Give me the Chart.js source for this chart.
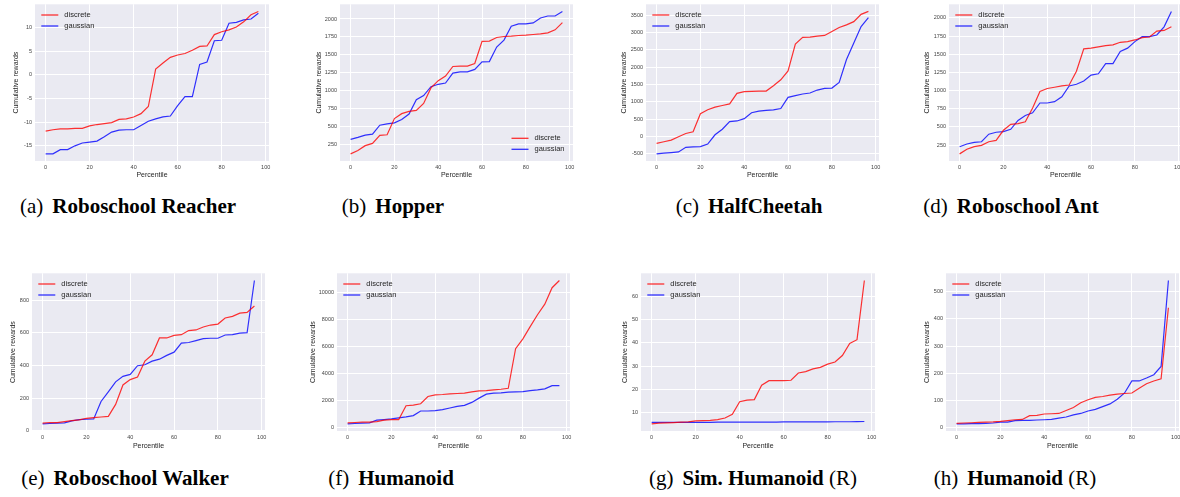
<!DOCTYPE html>
<html>
<head>
<meta charset="utf-8">
<script src="https://cdn.jsdelivr.net/npm/chart.js@4.4.0/dist/chart.umd.min.js"></script>
<style>
  html, body { margin: 0; padding: 0; background: #fff; width: 1180px; height: 497px; overflow: hidden; position: relative; }
  canvas { position: absolute; }
  .cap { position: absolute; transform: translate(-50%, -50%); font-family: 'Liberation Serif', 'Times New Roman', serif; font-size: 21px; white-space: nowrap; color: #000; }
  .cap b { margin-left: 9px; }
</style>
</head>
<body>
<div class="cap" style="left:128px;top:206px">(a)<b>Roboschool Reacher</b></div>
<div class="cap" style="left:393px;top:206px">(b)<b>Hopper</b></div>
<div class="cap" style="left:749px;top:206px">(c)<b>HalfCheetah</b></div>
<div class="cap" style="left:1011px;top:206px">(d)<b>Roboschool Ant</b></div>
<div class="cap" style="left:125px;top:478px">(e)<b>Roboschool Walker</b></div>
<div class="cap" style="left:391px;top:478px">(f)<b>Humanoid</b></div>
<div class="cap" style="left:753px;top:478px">(g)<b>Sim. Humanoid</b> (R)</div>
<div class="cap" style="left:1015px;top:478px">(h)<b>Humanoid</b> (R)</div>
<script>
// percentile positions shared by every panel
const percentiles = [0, 3.33, 6.67, 10, 13.33, 16.67, 20, 23.33, 26.67, 30, 33.33, 36.67, 40, 43.33, 46.67,
                     50, 53.33, 56.67, 60, 63.33, 66.67, 70, 73.33, 76.67, 80, 83.33, 86.67, 90, 93.33, 96.67];
const xTicks = [0, 20, 40, 60, 80, 100];

// (a) Roboschool Reacher
const reacherDiscrete = [-11.9, -11.6, -11.4, -11.4, -11.3, -11.3, -10.8, -10.5, -10.3, -10.1, -9.4, -9.3, -8.9, -8.2, -6.7,
                         1.2, 2.5, 3.7, 4.2, 4.5, 5.2, 6.0, 6.1, 8.5, 9.1, 9.5, 10.1, 11.2, 12.7, 13.4];
const reacherGaussian = [-16.7, -16.7, -15.8, -15.8, -15.0, -14.4, -14.2, -14.0, -13.1, -12.1, -11.7, -11.6, -11.6, -10.7, -9.8,
                         -9.3, -8.9, -8.7, -6.5, -4.6, -4.6, 2.2, 2.7, 7.2, 7.3, 10.9, 11.1, 11.6, 11.8, 13.0];
const reacherTicks = [-15, -10, -5, 0, 5, 10];

// (b) Hopper
const hopperDiscrete = [112, 158, 227, 259, 370, 379, 606, 675, 707, 721, 818, 1035, 1137, 1201, 1335,
                        1340, 1340, 1377, 1686, 1691, 1741, 1755, 1760, 1769, 1774, 1783, 1792, 1806, 1848, 1950];
const hopperGaussian = [315, 343, 375, 389, 513, 532, 546, 592, 670, 869, 929, 1053, 1086, 1104, 1243,
                        1261, 1261, 1294, 1400, 1404, 1608, 1705, 1898, 1931, 1931, 1945, 2014, 2042, 2042, 2106];
const hopperTicks = [250, 500, 750, 1000, 1250, 1500, 1750, 2000];

// (c) HalfCheetah
const cheetahDiscrete = [-197, -150, -102, -7, 88, 135, 656, 770, 846, 893, 941, 1244, 1291, 1301, 1310,
                         1310, 1462, 1633, 1889, 2666, 2855, 2865, 2893, 2912, 3026, 3140, 3216, 3310, 3519, 3604];
const cheetahGaussian = [-500, -481, -462, -443, -310, -301, -291, -216, 50, 211, 429, 448, 514, 685, 732,
                         751, 770, 808, 1130, 1177, 1225, 1253, 1339, 1386, 1396, 1557, 2220, 2694, 3168, 3424];
const cheetahTicks = [-500, 0, 500, 1000, 1500, 2000, 2500, 3000, 3500];

// (d) Roboschool Ant
const antDiscrete = [128, 191, 227, 245, 295, 313, 453, 535, 544, 571, 761, 987, 1028, 1046, 1064,
                     1077, 1267, 1575, 1584, 1602, 1620, 1629, 1665, 1674, 1697, 1729, 1738, 1819, 1828, 1878];
const antGaussian = [227, 264, 286, 295, 399, 426, 435, 467, 589, 657, 693, 829, 829, 847, 915,
                     1064, 1087, 1132, 1213, 1231, 1371, 1371, 1539, 1584, 1674, 1742, 1742, 1765, 1878, 2090];
const antTicks = [250, 500, 750, 1000, 1250, 1500, 1750, 2000];

// (e) Roboschool Walker
const walkerDiscrete = [47, 51, 51, 57, 63, 67, 77, 81, 85, 89, 162, 281, 314, 330, 427,
                        466, 569, 569, 585, 589, 614, 618, 636, 648, 654, 691, 701, 721, 725, 765];
const walkerGaussian = [43, 45, 47, 49, 61, 69, 71, 73, 180, 239, 300, 334, 346, 399, 405,
                        427, 439, 462, 482, 537, 541, 553, 565, 567, 567, 587, 589, 599, 601, 921];
const walkerTicks = [0, 200, 400, 600, 800];

// (f) Humanoid
const humanoidDiscrete = [366, 390, 415, 415, 463, 561, 610, 610, 1634, 1683, 1780, 2317, 2439, 2463, 2512,
                          2537, 2561, 2659, 2732, 2756, 2805, 2854, 2927, 5854, 6585, 7488, 8366, 9146, 10366, 10902];
const humanoidGaussian = [293, 317, 341, 366, 561, 610, 659, 732, 805, 902, 1244, 1244, 1268, 1341, 1463,
                          1585, 1659, 1878, 2195, 2488, 2561, 2585, 2634, 2659, 2683, 2756, 2805, 2878, 3122, 3122];
const humanoidTicks = [0, 2000, 4000, 6000, 8000, 10000];

// (g) Sim. Humanoid (R)
const simHumanoidDiscrete = [5.2, 5.5, 5.6, 5.75, 5.9, 6.0, 6.5, 6.6, 6.7, 7.0, 7.7, 9.3, 14.7, 15.4, 15.6,
                             21.8, 23.7, 23.7, 23.7, 23.9, 27.0, 27.6, 28.8, 29.4, 30.8, 31.7, 34.5, 39.7, 41.3, 66.7];
const simHumanoidGaussian = [5.8, 5.8, 5.8, 5.8, 5.8, 5.85, 5.85, 5.85, 5.85, 5.9, 5.9, 5.9, 5.9, 5.9, 5.95,
                             5.95, 5.95, 5.95, 6.0, 6.0, 6.0, 6.0, 6.05, 6.05, 6.05, 6.1, 6.1, 6.1, 6.15, 6.2];
const simHumanoidTicks = [10, 20, 30, 40, 50, 60];

// (h) Humanoid (R)
const humanoidRDiscrete = [17, 18, 19, 20, 21, 22, 24, 27, 30, 31, 45, 46, 51, 52, 53,
                           64, 75, 92, 103, 112, 115, 120, 124, 126, 128, 145, 162, 172, 180, 440];
const humanoidRGaussian = [15, 15, 16, 16, 17, 18, 21, 21, 27, 28, 28, 29, 30, 31, 36,
                           40, 48, 53, 62, 68, 78, 88, 105, 128, 172, 172, 183, 195, 225, 540];
const humanoidRTicks = [0, 100, 200, 300, 400, 500];

const FONT = "'Liberation Sans', Arial, sans-serif";

// plot-area boxes (pixels) for each panel
const panels = [
  { d: reacherDiscrete, g: reacherGaussian, t: reacherTicks, left: 35, right: 269, top: 3, bottom: 161, yTitleX: 16, xTitleY: 175, legend: 'upper left' },
  { d: hopperDiscrete, g: hopperGaussian, t: hopperTicks, left: 340, right: 573, top: 3, bottom: 161, yTitleX: 319, xTitleY: 175, legend: 'lower right' },
  { d: cheetahDiscrete, g: cheetahGaussian, t: cheetahTicks, left: 646, right: 879, top: 3, bottom: 161, yTitleX: 624, xTitleY: 175, legend: 'upper left' },
  { d: antDiscrete, g: antGaussian, t: antTicks, left: 949, right: 1182, top: 3, bottom: 161, yTitleX: 927, xTitleY: 175, legend: 'upper left' },
  { d: walkerDiscrete, g: walkerGaussian, t: walkerTicks, left: 32, right: 265, top: 272, bottom: 431, yTitleX: 13.5, xTitleY: 445.5, legend: 'upper left' },
  { d: humanoidDiscrete, g: humanoidGaussian, t: humanoidTicks, left: 337, right: 570, top: 272, bottom: 431, yTitleX: 313.5, xTitleY: 445.5, legend: 'upper left' },
  { d: simHumanoidDiscrete, g: simHumanoidGaussian, t: simHumanoidTicks, left: 641, right: 875, top: 272, bottom: 431, yTitleX: 625.5, xTitleY: 445.5, legend: 'upper left' },
  { d: humanoidRDiscrete, g: humanoidRGaussian, t: humanoidRTicks, left: 946, right: 1179, top: 272, bottom: 431, yTitleX: 927, xTitleY: 445.5, legend: 'upper left' }
];

// grey seaborn-style panel background
const panelBackground = {
  id: 'panelBackground',
  beforeDraw(chart) {
    const a = chart.chartArea, ctx = chart.ctx;
    ctx.save();
    ctx.fillStyle = '#eaeaf2';
    ctx.fillRect(a.left, a.top, a.right - a.left, a.bottom - a.top);
    ctx.restore();
  }
};

// legend drawn inside the plot area, like matplotlib's
const innerLegend = {
  id: 'innerLegend',
  afterDatasetsDraw(chart, args, opts) {
    const a = chart.chartArea, ctx = chart.ctx;
    let x0, y0;
    if (opts.position === 'lower right') { x0 = a.right - 61.5; y0 = a.bottom - 22.7; }
    else { x0 = a.left + 6.3; y0 = a.top + 10.7; }
    ctx.save();
    ctx.font = '7.5px ' + FONT;
    ctx.textBaseline = 'middle';
    chart.data.datasets.forEach((ds, i) => {
      const y = y0 + i * 11;
      ctx.strokeStyle = ds.borderColor;
      ctx.lineWidth = 1.3;
      ctx.beginPath(); ctx.moveTo(x0, y); ctx.lineTo(x0 + 17, y); ctx.stroke();
      ctx.fillStyle = '#262626';
      ctx.fillText(ds.label, x0 + 23, y);
    });
    ctx.restore();
  }
};

panels.forEach(p => {
  const cLeft = Math.round(p.yTitleX - 4.2);
  const cTop = p.top - 5;
  const cRight = p.right + 8;
  const cBottom = Math.round(p.xTitleY + 4.2);
  const canvas = document.createElement('canvas');
  canvas.width = cRight - cLeft;
  canvas.height = cBottom - cTop;
  canvas.style.left = cLeft + 'px';
  canvas.style.top = cTop + 'px';
  document.body.appendChild(canvas);

  const all = p.d.concat(p.g);
  const ymin = Math.min(...all), ymax = Math.max(...all), ypad = (ymax - ymin) * 0.05;
  const xmin = percentiles[0], xmax = percentiles[percentiles.length - 1], xpad = (xmax - xmin) * 0.05;

  new Chart(canvas, {
    type: 'line',
    data: {
      datasets: [
        { label: 'discrete', data: percentiles.map((x, i) => ({ x: x, y: p.d[i] })),
          borderColor: 'rgba(255,0,0,0.8)', borderWidth: 1.2, pointRadius: 0, tension: 0, fill: false },
        { label: 'gaussian', data: percentiles.map((x, i) => ({ x: x, y: p.g[i] })),
          borderColor: 'rgba(0,0,255,0.8)', borderWidth: 1.2, pointRadius: 0, tension: 0, fill: false }
      ]
    },
    options: {
      responsive: false,
      animation: false,
      devicePixelRatio: 1,
      layout: { padding: { top: 5, right: 8, left: 0, bottom: 0 } },
      plugins: { legend: { display: false }, tooltip: { enabled: false }, innerLegend: { position: p.legend } },
      scales: {
        x: {
          type: 'linear', min: xmin - xpad, max: xmax + xpad,
          afterBuildTicks: s => { s.ticks = xTicks.map(v => ({ value: v })); },
          afterFit: s => { s.height = cBottom - p.bottom; },
          grid: { color: '#ffffff', lineWidth: 1, drawTicks: false },
          border: { display: false },
          ticks: { padding: 3, autoSkip: false, maxRotation: 0, color: '#444', font: { size: 5.5, family: FONT }, callback: v => String(v) },
          title: { display: true, text: 'Percentile', padding: 0, color: '#262626', font: { size: 7, family: FONT } }
        },
        y: {
          type: 'linear', min: ymin - ypad, max: ymax + ypad,
          afterBuildTicks: s => { s.ticks = p.t.map(v => ({ value: v })); },
          afterFit: s => { s.width = p.left - cLeft; },
          grid: { color: '#ffffff', lineWidth: 1, drawTicks: false },
          border: { display: false },
          ticks: { padding: 3, autoSkip: false, color: '#444', font: { size: 5.5, family: FONT }, callback: v => String(v) },
          title: { display: true, text: 'Cumulative rewards', padding: 0, color: '#262626', font: { size: 7, family: FONT } }
        }
      }
    },
    plugins: [panelBackground, innerLegend]
  });
});
</script>
</body>
</html>
